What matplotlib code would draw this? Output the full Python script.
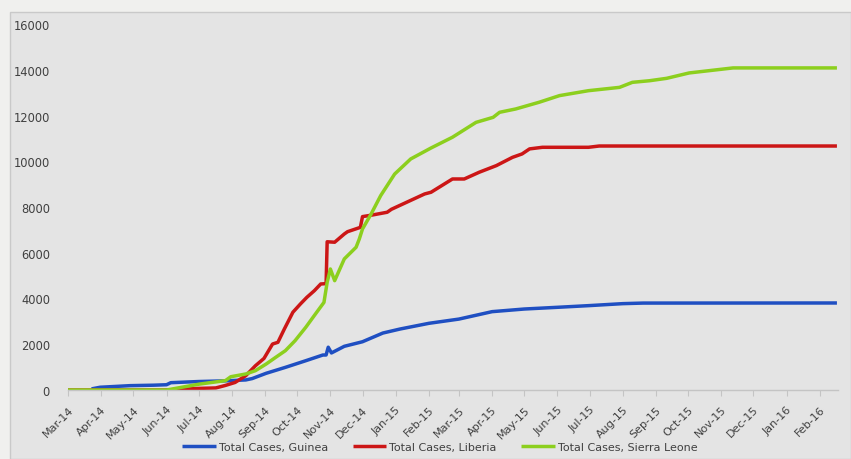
import matplotlib
matplotlib.use("Agg")
import matplotlib.pyplot as plt
import matplotlib.dates as mdates
from matplotlib.patches import Rectangle
import pandas as pd

# Cumulative Ebola case counts by country
guinea_dates = ["2014-03-23", "2014-03-31", "2014-04-28", "2014-05-20", "2014-06-01",
                "2014-06-05", "2014-07-01", "2014-07-26", "2014-08-14", "2014-08-20",
                "2014-09-02", "2014-09-20", "2014-10-09", "2014-10-25", "2014-10-28",
                "2014-10-30", "2014-11-02", "2014-11-14", "2014-12-01", "2014-12-20",
                "2015-01-05", "2015-02-01", "2015-03-01", "2015-04-01", "2015-05-01",
                "2015-06-01", "2015-07-01", "2015-08-01", "2015-08-20", "2016-02-17"]
guinea_cases = [49, 120, 190, 210, 230,
                320, 370, 400, 440, 500,
                730, 990, 1280, 1530, 1530,
                1870, 1620, 1910, 2110, 2490,
                2665, 2915, 3100, 3425, 3540,
                3615, 3690, 3775, 3800, 3804]

liberia_dates = ["2014-03-01", "2014-06-01", "2014-06-10", "2014-07-01", "2014-07-17",
                 "2014-07-26", "2014-08-04", "2014-08-14", "2014-08-23", "2014-08-31",
                 "2014-09-08", "2014-09-13", "2014-09-19", "2014-09-27", "2014-10-04",
                 "2014-10-10", "2014-10-17", "2014-10-23", "2014-10-28", "2014-10-29",
                 "2014-11-05", "2014-11-14", "2014-11-17", "2014-11-29", "2014-12-01",
                 "2014-12-09", "2014-12-24", "2014-12-28", "2015-01-28", "2015-02-03",
                 "2015-02-23", "2015-03-06", "2015-03-20", "2015-04-05", "2015-04-20",
                 "2015-04-29", "2015-05-06", "2015-05-18", "2015-06-30", "2015-07-10",
                 "2016-02-17"]
liberia_cases = [0, 0, 20, 70, 90,
                 200, 330, 625, 1060, 1380,
                 2010, 2085, 2665, 3400, 3760,
                 4050, 4340, 4635, 4650, 6480,
                 6460, 6820, 6920, 7110, 7580,
                 7640, 7770, 7900, 8570, 8645,
                 9225, 9225, 9520, 9810, 10170,
                 10320, 10540, 10610, 10610, 10666,
                 10666]

sierra_dates = ["2014-03-01", "2014-06-01", "2014-07-02", "2014-07-26", "2014-07-31",
                "2014-08-14", "2014-08-23", "2014-09-02", "2014-09-11", "2014-09-20",
                "2014-09-29", "2014-10-09", "2014-10-18", "2014-10-26", "2014-10-29",
                "2014-11-01", "2014-11-05", "2014-11-14", "2014-11-25", "2014-11-28",
                "2014-12-01", "2014-12-09", "2014-12-18", "2014-12-31", "2015-01-15",
                "2015-02-03", "2015-02-23", "2015-03-17", "2015-04-02", "2015-04-08",
                "2015-04-23", "2015-05-15", "2015-06-03", "2015-06-30", "2015-07-29",
                "2015-08-10", "2015-08-26", "2015-09-11", "2015-10-02", "2015-11-12",
                "2016-02-17"]
sierra_cases = [0, 0, 260, 410, 580,
                700, 845, 1135, 1430, 1720,
                2155, 2740, 3320, 3830, 4710,
                5290, 4780, 5730, 6240, 6600,
                7040, 7690, 8500, 9440, 10100,
                10580, 11050, 11700, 11920, 12140,
                12285, 12580, 12870, 13085, 13230,
                13450, 13520, 13625, 13860, 14080,
                14080]

series_labels = ["Total Cases, Guinea", "Total Cases, Liberia", "Total Cases, Sierra Leone"]
series_colors = ["#1f4fc2", "#cc1616", "#8ccf1e"]

y_ticks = [0, 2000, 4000, 6000, 8000, 10000, 12000, 14000, 16000]

W, H = 851, 460
fig = plt.figure(figsize=(W / 100, H / 100), dpi=100)
fig.patch.set_facecolor("#f0f0ee")

# chart panel behind the axes
panel = Rectangle((10 / W, 0), 1 - 10 / W, (H - 13) / H, transform=fig.transFigure,
                  facecolor="#e4e4e4", edgecolor="#c9c9c9", linewidth=1.0, zorder=-5)
fig.patches.append(panel)

ax = fig.add_axes([68 / W, (H - 391) / H, (838 - 68) / W, 366 / H])
ax.set_facecolor("none")
ax.set_zorder(5)

for dates, cases, lab, col in zip([guinea_dates, liberia_dates, sierra_dates],
                                  [guinea_cases, liberia_cases, sierra_cases],
                                  series_labels, series_colors):
    ax.plot(pd.to_datetime(dates), cases, color=col, lw=2.5, label=lab,
            solid_joinstyle="round", solid_capstyle="butt")

ax.set_ylim(0, 16000)
ax.set_yticks(y_ticks)
ax.set_yticklabels([str(v) for v in y_ticks])
ax.set_xlim(pd.Timestamp("2014-03-01"), pd.Timestamp("2016-02-18"))
ax.xaxis.set_major_locator(mdates.MonthLocator())
ax.xaxis.set_major_formatter(mdates.DateFormatter("%b-%y"))

for s in ["top", "right", "left"]:
    ax.spines[s].set_visible(False)
ax.spines["bottom"].set_color("#c4c4c4")
ax.spines["bottom"].set_linewidth(1.0)

ax.tick_params(axis="y", length=0, pad=13, labelsize=8.3, labelcolor="#404040")
ax.tick_params(axis="x", length=4, width=0.8, color="#c4c4c4", pad=6,
               labelsize=8, labelcolor="#404040")
for t in ax.get_xticklabels():
    t.set_rotation(45)
    t.set_ha("right")
    t.set_va("top")
    t.set_rotation_mode("anchor")

fig.legend(loc="center", bbox_to_anchor=(440 / W, 12 / H), ncol=3, frameon=False,
           fontsize=8, handlelength=3.0, handletextpad=0.3, columnspacing=2.2,
           labelcolor="#404040")

fig.savefig("out.png", dpi=100, facecolor=fig.get_facecolor())
